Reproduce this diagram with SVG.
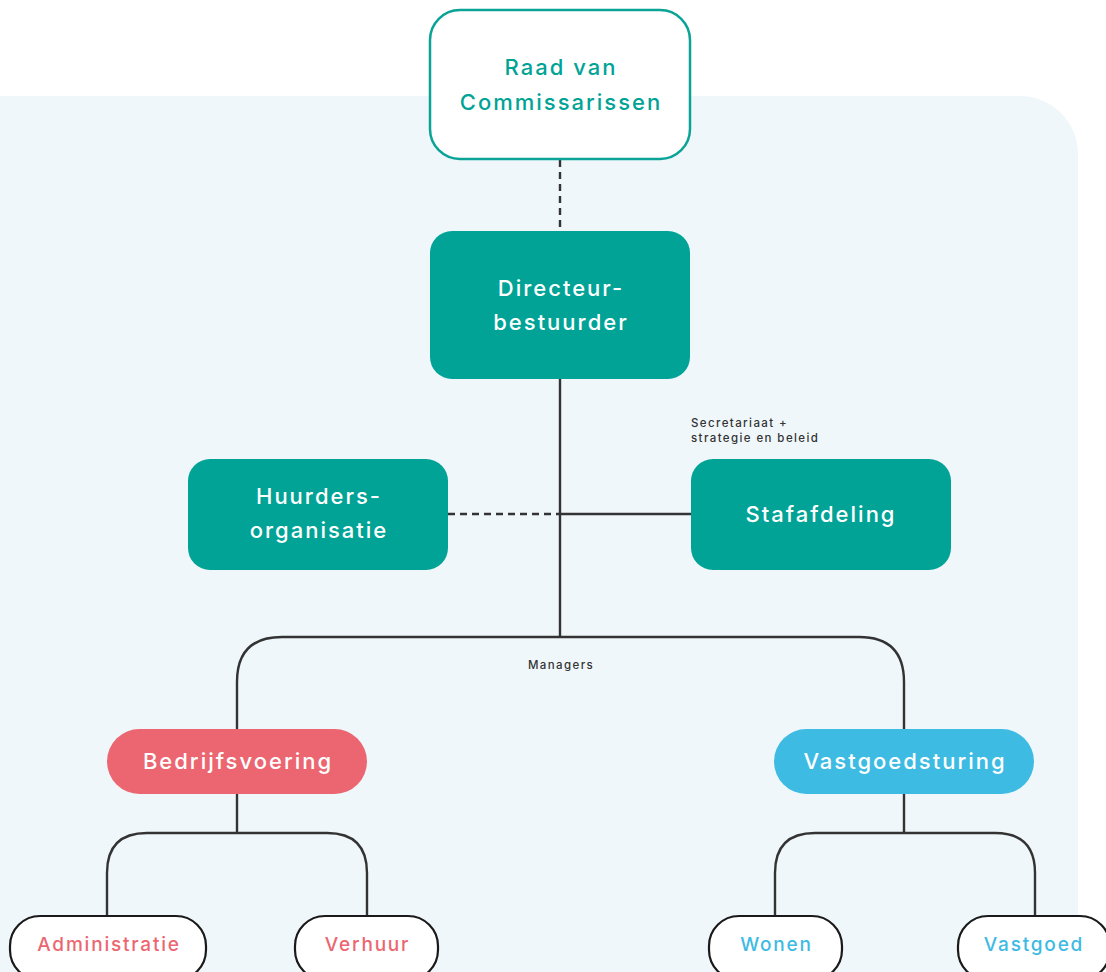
<svg xmlns="http://www.w3.org/2000/svg" width="1106" height="972" viewBox="0 0 1106 972">
<style>
text{font-family:Inter,"Noto Sans","DejaVu Sans",sans-serif;font-weight:500;text-anchor:middle}
.big{font-size:22px;fill:#fff;letter-spacing:2px}
.teal{fill:#00a396}
.small{font-size:11.5px;fill:#333;letter-spacing:1.4px}
.lt{font-size:19px;letter-spacing:1.8px}
.pink{fill:#ec6671}
.blue{fill:#3dbbe3}
.leaf{fill:#fff;stroke:#1a1a1a;stroke-width:2.2}
.ln{fill:none;stroke:#333;stroke-width:2.4}
.dash{fill:none;stroke:#333;stroke-width:2.4;stroke-dasharray:7 5}
</style>
<rect width="1106" height="972" fill="#fff"/>
<path d="M-10,96 H1020 A58,58 0 0 1 1078,154 V980 H-10 Z" fill="#eff7fb"/>
<g id="connectors">
<line class="dash" x1="560" y1="160" x2="560" y2="231"/>
<line class="ln" x1="560" y1="379" x2="560" y2="637"/>
<line class="dash" x1="448" y1="514" x2="560" y2="514"/>
<line class="ln" x1="560" y1="514" x2="691" y2="514"/>
<path class="ln" d="M237,729 V682 Q237,637 282,637 H859 Q904,637 904,682 V729"/>
<line class="ln" x1="237" y1="794" x2="237" y2="833"/>
<path class="ln" d="M107,916 V873 Q107,833 147,833 H327 Q367,833 367,873 V916"/>
<line class="ln" x1="904" y1="794" x2="904" y2="833"/>
<path class="ln" d="M775,916 V873 Q775,833 815,833 H995 Q1035,833 1035,873 V916"/>
</g>
<g id="raad">
<rect x="430" y="10" width="260" height="149" rx="30" fill="#fff" stroke="#0aa396" stroke-width="2.5"/>
<text class="big teal" x="561" y="75">Raad van</text>
<text class="big teal" x="561" y="110">Commissarissen</text>
</g>
<g id="directeur">
<rect x="430" y="231" width="260" height="148" rx="22" fill="#00a396"/>
<text class="big" x="561" y="296">Directeur-</text>
<text class="big" x="561" y="330">bestuurder</text>
</g>
<g id="huurders">
<rect x="188" y="459" width="260" height="111" rx="22" fill="#00a396"/>
<text class="big" x="319" y="504">Huurders-</text>
<text class="big" x="319" y="538">organisatie</text>
</g>
<g id="stafafdeling">
<rect x="691" y="459" width="260" height="111" rx="22" fill="#00a396"/>
<text class="big" x="821" y="522">Stafafdeling</text>
<text class="small" x="691" y="427" style="text-anchor:start">Secretariaat +</text>
<text class="small" x="691" y="442" style="text-anchor:start">strategie en beleid</text>
</g>
<g id="managers-label">
<text class="small" x="561" y="669">Managers</text>
</g>
<g id="bedrijfsvoering">
<rect x="107" y="729" width="260" height="65" rx="32.5" fill="#ec6671"/>
<text class="big" x="238" y="769">Bedrijfsvoering</text>
</g>
<g id="vastgoedsturing">
<rect x="774" y="729" width="260" height="65" rx="32.5" fill="#3dbbe3"/>
<text class="big" x="905" y="769">Vastgoedsturing</text>
</g>
<g id="administratie">
<rect class="leaf" x="10" y="916" width="196" height="64" rx="30"/>
<text class="lt pink" x="109" y="951">Administratie</text>
</g>
<g id="verhuur">
<rect class="leaf" x="295" y="916" width="143" height="64" rx="30"/>
<text class="lt pink" x="367.5" y="951">Verhuur</text>
</g>
<g id="wonen">
<rect class="leaf" x="709" y="916" width="133" height="64" rx="30"/>
<text class="lt blue" x="776.5" y="951">Wonen</text>
</g>
<g id="vastgoed">
<rect class="leaf" x="958" y="916" width="152" height="64" rx="30"/>
<text class="lt blue" x="1034" y="951">Vastgoed</text>
</g>
</svg>
